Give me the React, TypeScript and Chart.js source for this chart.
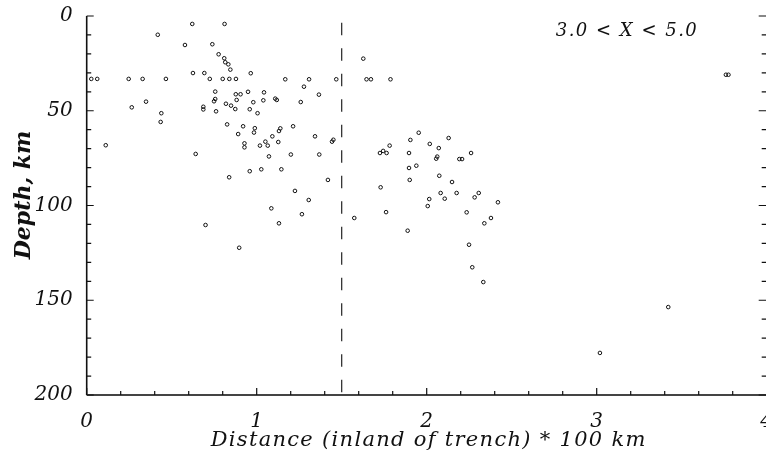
import React, { useEffect, useRef } from "react";
import { Chart, registerables } from "chart.js";

Chart.register(...registerables);

// Earthquake hypocentres: distance inland of the trench (×100 km) and depth (km)
const distance = [
  0.027, 0.062, 0.112, 0.247, 0.265, 0.329, 0.349, 0.418, 0.439, 0.435,
  0.466, 0.578, 0.621, 0.625, 0.641, 0.686, 0.686, 0.692, 0.699, 0.724,
  0.739, 0.749, 0.756, 0.756, 0.761, 0.776, 0.8, 0.809, 0.811, 0.815,
  0.819, 0.826, 0.833, 0.838, 0.839, 0.845, 0.849, 0.874, 0.878, 0.877,
  0.882, 0.891, 0.897, 0.905, 0.92, 0.928, 0.928, 0.949, 0.959, 0.959,
  0.965, 0.98, 0.989, 0.984, 1.005, 1.019, 1.027, 1.039, 1.043, 1.051,
  1.065, 1.072, 1.086, 1.092, 1.109, 1.118, 1.127, 1.131, 1.131, 1.139,
  1.145, 1.168, 1.201, 1.214, 1.225, 1.259, 1.266, 1.278, 1.306, 1.308,
  1.343, 1.366, 1.368, 1.419, 1.443, 1.451, 1.468,
  1.574, 1.627, 1.646, 1.672, 1.725, 1.744, 1.729, 1.764, 1.761, 1.782,
  1.787, 1.888, 1.896, 1.896, 1.9, 1.904, 1.939, 1.953, 2.006, 2.015,
  2.018, 2.056, 2.062, 2.071, 2.074, 2.082, 2.106, 2.129, 2.149, 2.176,
  2.192, 2.208, 2.235, 2.249, 2.261, 2.268, 2.282, 2.306, 2.333, 2.339,
  2.378, 2.419, 3.019, 3.421, 3.76, 3.775,
];

const depth = [
  33.2, 33.2, 68.2, 33.2, 48.2, 33.2, 45.2, 9.9, 51.3, 55.9,
  33.2, 15.3, 4.2, 30.1, 72.8, 47.9, 49.3, 30.1, 110.3, 33.2,
  14.9, 45.0, 43.8, 39.9, 50.3, 20.2, 33.2, 22.3, 4.2, 24.4,
  46.3, 57.2, 25.5, 85.1, 33.2, 28.3, 47.3, 49.1, 33.2, 41.3,
  44.3, 62.3, 122.3, 41.3, 58.2, 67.2, 69.3, 40.0, 49.2, 81.9,
  30.2, 45.5, 59.2, 61.5, 51.3, 68.4, 80.9, 44.5, 40.3, 66.3,
  68.4, 74.1, 101.5, 63.5, 43.6, 44.3, 66.5, 109.4, 60.7, 59.3,
  80.9, 33.4, 73.1, 58.2, 92.3, 45.4, 104.6, 37.3, 97.1, 33.4,
  63.5, 41.5, 73.1, 86.5, 66.3, 65.3, 33.4,
  106.6, 22.5, 33.4, 33.4, 72.3, 71.2, 90.4, 72.3, 103.5, 68.4,
  33.4, 113.3, 72.3, 80.2, 86.5, 65.4, 79.0, 61.6, 100.3, 96.6,
  67.5, 75.3, 74.2, 69.7, 84.3, 93.4, 96.4, 64.4, 87.6, 93.4,
  75.5, 75.5, 103.6, 120.7, 72.3, 132.6, 95.7, 93.4, 140.4, 109.4,
  106.6, 98.3, 177.8, 153.6, 31.0, 31.0,
];

// Dashed marker line and its vertical extent (km)
const trenchLineDistance = 1.5;
const trenchLineDepth = [3.5, 200];

const distanceRange = [0, 4];
const depthRange = [0, 200];
const distanceLabelStep = 1;
const distanceMinorStep = 0.2;
const depthLabelStep = 50;
const depthMinorStep = 10;

const xTitle = "Distance (inland of trench) * 100 km";
const yTitle = "Depth, km";
const rangeNote = "3.0 < X < 5.0";

const CANVAS_W = 790;
const CANVAS_H = 451;
const PLOT_LEFT = 86.7;
const PLOT_RIGHT = 766.7;
const PLOT_TOP = 16;
const PLOT_BOTTOM = 395;

const SERIF = "'DejaVu Serif', serif";
const INK = "#111";

// Axis lines, inward tick marks and the free-floating text
const framePlugin = {
  id: "frame",
  afterDraw(chart: any) {
    const { ctx, chartArea: a, scales } = chart;
    const xs = scales.x;
    const ys = scales.y;
    ctx.save();

    ctx.strokeStyle = INK;
    ctx.lineWidth = 1.6;
    ctx.beginPath();
    ctx.moveTo(a.left, a.top);
    ctx.lineTo(a.left, a.bottom);
    ctx.stroke();

    ctx.strokeStyle = "#444";
    ctx.lineWidth = 1.8;
    ctx.beginPath();
    ctx.moveTo(a.left, a.bottom);
    ctx.lineTo(a.right, a.bottom);
    ctx.stroke();

    ctx.strokeStyle = INK;
    ctx.lineWidth = 1.2;
    ctx.beginPath();
    const nDepth = Math.round((depthRange[1] - depthRange[0]) / depthMinorStep);
    for (let i = 0; i <= nDepth; i++) {
      const v = depthRange[0] + i * depthMinorStep;
      const py = ys.getPixelForValue(v);
      const major = v % depthLabelStep === 0;
      ctx.moveTo(a.left, py);
      ctx.lineTo(a.left + (major ? 7 : 4.5), py);
      ctx.moveTo(a.right, py);
      ctx.lineTo(a.right - (major ? 8 : 5), py);
    }
    const nDist = Math.round((distanceRange[1] - distanceRange[0]) / distanceMinorStep);
    const perLabel = Math.round(distanceLabelStep / distanceMinorStep);
    for (let i = 0; i <= nDist; i++) {
      const px = xs.getPixelForValue(distanceRange[0] + i * distanceMinorStep);
      const major = i % perLabel === 0;
      ctx.moveTo(px, a.bottom);
      ctx.lineTo(px, a.bottom - (major ? 7 : 4));
    }
    ctx.stroke();

    ctx.fillStyle = INK;
    ctx.textAlign = "center";

    // vertical axis title
    ctx.font = `italic bold 22px ${SERIF}`;
    ctx.textBaseline = "middle";
    ctx.save();
    ctx.translate(24, 195);
    ctx.rotate(-Math.PI / 2);
    ctx.fillText(yTitle, 0, 0);
    ctx.restore();

    // horizontal axis title
    ctx.font = `italic 21px ${SERIF}`;
    ctx.textBaseline = "alphabetic";
    (ctx as any).letterSpacing = "1.3px";
    ctx.fillText(xTitle, (a.left + a.right) / 2 + 2, 446);

    // range note in the upper right
    ctx.font = `italic 18px ${SERIF}`;
    ctx.textBaseline = "middle";
    (ctx as any).letterSpacing = "1.5px";
    ctx.fillText(rangeNote, 627, 31);
    (ctx as any).letterSpacing = "0px";

    ctx.restore();
  },
};

export default function App() {
  const canvasRef = useRef<HTMLCanvasElement | null>(null);

  useEffect(() => {
    const canvas = canvasRef.current;
    if (!canvas) return;

    const points = distance.map((d, i) => ({ x: d, y: depth[i] }));
    const tickFont = { family: SERIF, style: "italic" as const, size: 20 };

    const chart = new Chart(canvas, {
      type: "scatter",
      data: {
        datasets: [
          {
            label: "events",
            data: points,
            pointStyle: "circle",
            pointRadius: 1.8,
            pointHoverRadius: 1.8,
            pointBorderWidth: 1,
            borderColor: INK,
            backgroundColor: "rgba(255,255,255,0)",
          },
          {
            type: "line",
            label: "trench",
            data: [
              { x: trenchLineDistance, y: trenchLineDepth[0] },
              { x: trenchLineDistance, y: trenchLineDepth[1] },
            ],
            borderColor: "#222",
            borderWidth: 1.2,
            borderDash: [12.5, 13],
            pointRadius: 0,
            showLine: true,
            fill: false,
          } as any,
        ],
      },
      options: {
        responsive: false,
        animation: false,
        devicePixelRatio: 1,
        events: [],
        layout: {
          padding: { left: 0, top: PLOT_TOP, right: CANVAS_W - PLOT_RIGHT, bottom: 0 },
        },
        plugins: {
          legend: { display: false },
          tooltip: { enabled: false },
        },
        scales: {
          x: {
            type: "linear",
            position: "bottom",
            min: distanceRange[0],
            max: distanceRange[1],
            afterFit(scale: any) {
              scale.height = CANVAS_H - PLOT_BOTTOM;
              scale.paddingLeft = 0;
              scale.paddingRight = 0;
            },
            grid: { display: false, drawTicks: false },
            border: { display: false },
            ticks: {
              stepSize: distanceLabelStep,
              color: INK,
              font: tickFont,
              padding: 15,
              maxRotation: 0,
              autoSkip: false,
            },
          },
          y: {
            type: "linear",
            min: depthRange[0],
            max: depthRange[1],
            reverse: true,
            afterFit(scale: any) {
              scale.width = PLOT_LEFT;
              scale.paddingTop = 0;
              scale.paddingBottom = 0;
            },
            grid: { display: false, drawTicks: false },
            border: { display: false },
            ticks: {
              stepSize: depthLabelStep,
              color: INK,
              font: tickFont,
              padding: 14,
            },
          },
        },
      },
      plugins: [framePlugin],
    });

    return () => chart.destroy();
  }, []);

  return (
    <div
      style={{
        position: "fixed",
        left: 0,
        top: 0,
        width: 766,
        height: 451,
        overflow: "hidden",
        background: "#fff",
      }}
    >
      <canvas
        ref={canvasRef}
        width={CANVAS_W}
        height={CANVAS_H}
        style={{ width: CANVAS_W, height: CANVAS_H, display: "block" }}
      />
    </div>
  );
}
